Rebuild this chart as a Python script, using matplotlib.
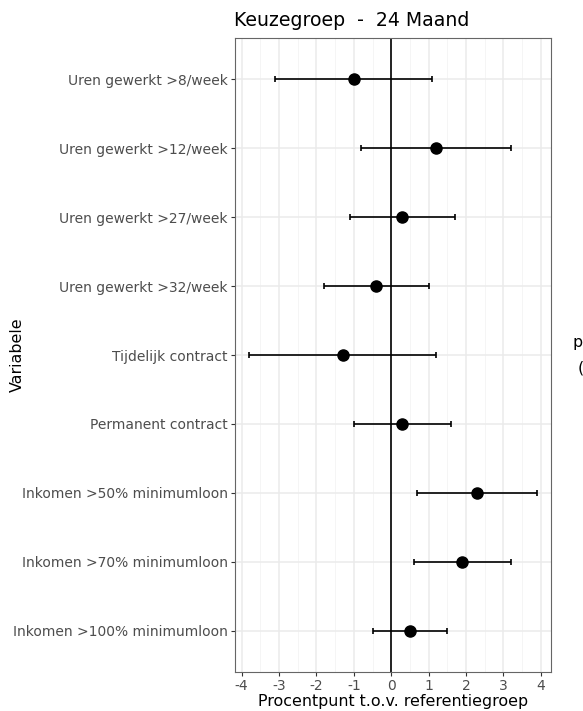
import matplotlib
matplotlib.use("Agg")
import matplotlib.pyplot as plt
import numpy as np

categories = [
    "Uren gewerkt >8/week",
    "Uren gewerkt >12/week",
    "Uren gewerkt >27/week",
    "Uren gewerkt >32/week",
    "Tijdelijk contract",
    "Permanent contract",
    "Inkomen >50% minimumloon",
    "Inkomen >70% minimumloon",
    "Inkomen >100% minimumloon",
]
estimates = [-1.0, 1.2, 0.3, -0.4, -1.3, 0.3, 2.3, 1.9, 0.5]
lower = [-3.1, -0.8, -1.1, -1.8, -3.8, -1.0, 0.7, 0.6, -0.5]
upper = [1.1, 3.2, 1.7, 1.0, 1.2, 1.6, 3.9, 3.2, 1.5]
x_ticks = [-4, -3, -2, -1, 0, 1, 2, 3, 4]

W, H = 583, 711
dpi = 100
fig = plt.figure(figsize=(W / dpi, H / dpi), dpi=dpi)
ax = fig.add_axes([234.5 / W, 1 - 672 / H, (551 - 234.5) / W, (672 - 38) / H])

n = len(categories)
ypos = np.arange(n)[::-1]  # first category at the top
est = np.array(estimates)
lo = np.array(lower)
hi = np.array(upper)

# grid (theme_bw style)
ax.set_axisbelow(True)
ax.set_xticks(x_ticks)
ax.set_xticks(np.arange(-4.5, 4.51, 1.0), minor=True)
ax.grid(which="major", axis="both", color="#EBEBEB", linewidth=1.1)
ax.grid(which="minor", axis="x", color="#F4F4F4", linewidth=0.6)

ax.axvline(0, color="black", linewidth=1.2, zorder=2)
ax.errorbar(est, ypos, xerr=[est - lo, hi - est], fmt="o", color="black",
            markersize=8, elinewidth=1.2, capsize=2.5, capthick=1.2, zorder=3)

ax.set_xlim(-4.19, 4.27)
ax.set_ylim(-0.6, n - 0.4)
ax.set_yticks(ypos)
ax.set_yticklabels(categories)
ax.set_xticklabels([str(t) for t in x_ticks])

ax.tick_params(axis="both", which="major", colors="#333333", labelcolor="#4D4D4D",
               labelsize=10, length=3, width=0.8, pad=2)
ax.tick_params(axis="both", which="minor", length=0)
for s in ax.spines.values():
    s.set_color("#666666")
    s.set_linewidth(0.8)

ax.set_xlabel("Procentpunt t.o.v. referentiegroep", fontsize=11.4, labelpad=1)
ax.set_ylabel("Variabele", fontsize=11.4)
ax.yaxis.set_label_coords((25 - 234.5) / (551 - 234.5), 0.5)
ax.set_title("Keuzegroep  -  24 Maand", fontsize=13.6, loc="left", pad=9)

# partially visible legend title at the right edge
fig.text(573 / W, 1 - 342 / H, "p", fontsize=11.4, va="center", ha="left")
fig.text(578 / W, 1 - 368 / H, "(", fontsize=11.4, va="center", ha="left")

fig.savefig("out.png", dpi=dpi)
